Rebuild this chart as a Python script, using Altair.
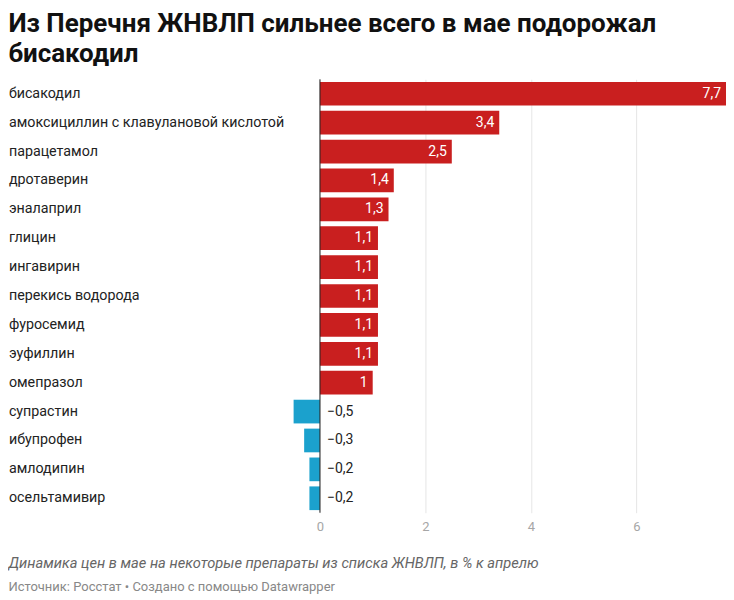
import altair as alt
import pandas as pd

drugs = [
    "бисакодил",
    "амоксициллин с клавулановой кислотой",
    "парацетамол",
    "дротаверин",
    "эналаприл",
    "глицин",
    "ингавирин",
    "перекись водорода",
    "фуросемид",
    "эуфиллин",
    "омепразол",
    "супрастин",
    "ибупрофен",
    "амлодипин",
    "осельтамивир",
]
values = [7.7, 3.4, 2.5, 1.4, 1.3, 1.1, 1.1, 1.1, 1.1, 1.1, 1.0, -0.5, -0.3, -0.2, -0.2]
x_ticks = [0, 2, 4, 6]

title_lines = ["Из Перечня ЖНВЛП сильнее всего в мае подорожал", "бисакодил"]
caption = "Динамика цен в мае на некоторые препараты из списка ЖНВЛП, в % к апрелю"
source = "Источник: Росстат • Создано с помощью Datawrapper"


def fmt(v):
    s = f"{v:g}".replace(".", ",")
    return s.replace("-", "\u2212")


df = pd.DataFrame({
    "drug": drugs,
    "value": values,
    "label": [fmt(v) for v in values],
    "sign": ["pos" if v >= 0 else "neg" for v in values],
})

W = 433
H = 434
RED = "#c91f1f"
BLUE = "#1ba1cd"
FONT = "Roboto"
LABEL_PAD = 285.6

x_scale = alt.Scale(domain=[-0.5, 7.7], nice=False, zero=False)
y_enc = alt.Y(
    "drug:N",
    sort=drugs,
    scale=alt.Scale(paddingInner=0.18, paddingOuter=0.09),
    axis=alt.Axis(
        title=None, domain=False, ticks=False, tickSize=0,
        labelAlign="left", labelPadding=LABEL_PAD, labelLimit=400,
        labelFontSize=14.3, labelFont=FONT, labelColor="#222222",
    ),
)
x_enc = alt.X(
    "value:Q",
    scale=x_scale,
    axis=alt.Axis(
        title=None, values=x_ticks, domain=False, ticks=False,
        grid=True, gridColor="#e6e6e6", gridWidth=1,
        labelFontSize=13, labelFont=FONT, labelColor="#a6a6a6",
        labelPadding=8,
    ),
)

base = alt.Chart(df)

bars = base.mark_bar(cornerRadius=0).encode(
    y=y_enc,
    x=x_enc,
    x2=alt.datum(0),
    color=alt.Color("sign:N", scale=alt.Scale(domain=["pos", "neg"], range=[RED, BLUE]), legend=None),
)

zero = alt.Chart(pd.DataFrame({"z": [0]})).mark_rule(color="#222222", strokeWidth=1).encode(
    x=alt.X("z:Q", scale=x_scale)
)

pos_labels = base.transform_filter(alt.datum.value >= 0).mark_text(
    align="right", baseline="middle", dx=-5, color="white", fontSize=14, font=FONT
).encode(y=alt.Y("drug:N", sort=drugs), x=alt.X("value:Q", scale=x_scale), text="label:N")

neg_labels = base.transform_filter(alt.datum.value < 0).mark_text(
    align="left", baseline="middle", dx=7, color="#222222", fontSize=14, font=FONT
).encode(y=alt.Y("drug:N", sort=drugs), x=alt.datum(0), text="label:N")

cap = alt.Chart(pd.DataFrame({"t": [caption]})).mark_text(
    align="left", baseline="middle", fontSize=14.7, font=FONT, fontStyle="italic", color="#666666"
).encode(x=alt.value(-LABEL_PAD), y=alt.value(H + 51), text="t:N")

src = alt.Chart(pd.DataFrame({"t": [source]})).mark_text(
    align="left", baseline="middle", fontSize=13, font=FONT, color="#888888"
).encode(x=alt.value(-LABEL_PAD), y=alt.value(H + 74), text="t:N")

chart = alt.layer(bars, zero, pos_labels, neg_labels, cap, src).properties(
    width=W,
    height=H,
    padding={"left": 0, "top": 2, "right": 0, "bottom": 0},
    title=alt.TitleParams(
        text=title_lines, anchor="start", frame="bounds", fontSize=26, font=FONT,
        fontWeight="bold", color="#111111", lineHeight=30, offset=12,
    ),
).configure(background="white").configure_view(stroke=None)

chart.save("out.html", embed_options={"renderer": "svg", "actions": False})
